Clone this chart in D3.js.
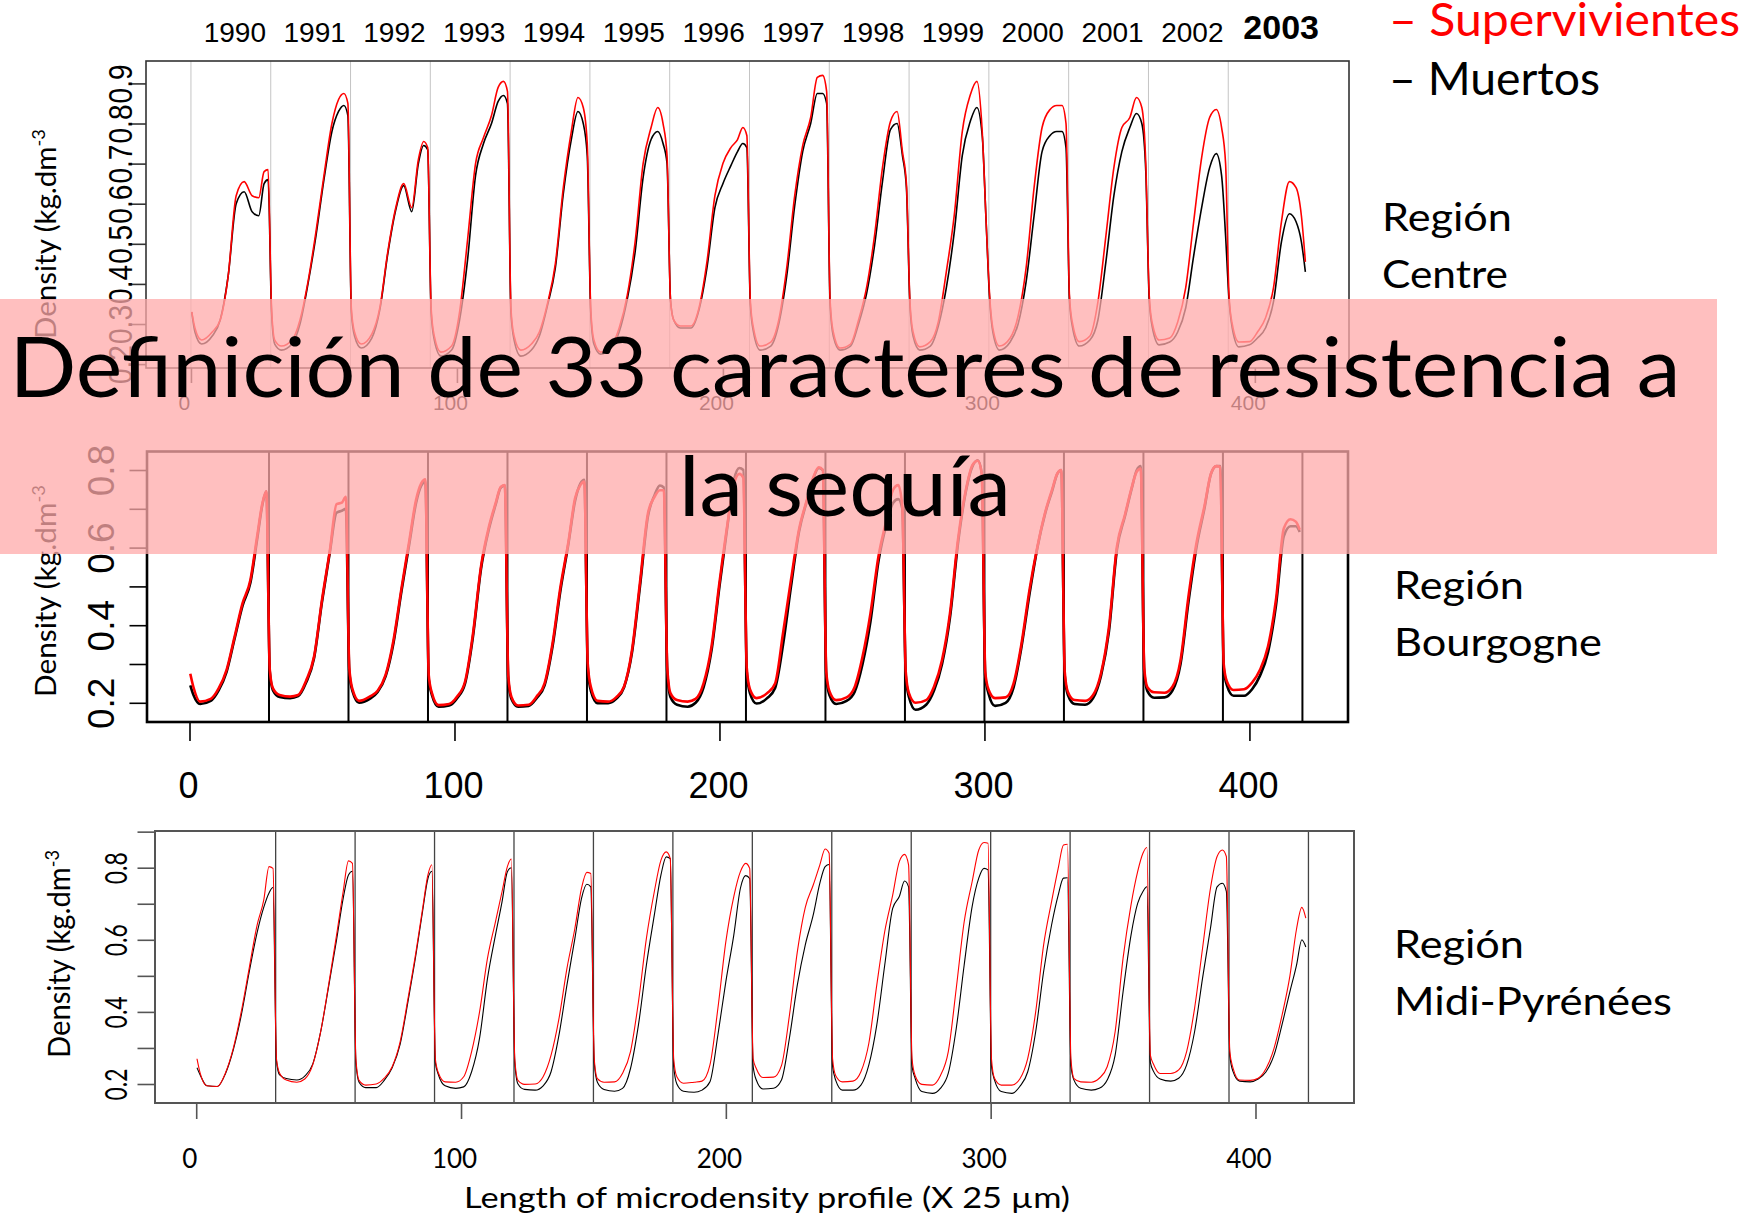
<!DOCTYPE html>
<html>
<head>
<meta charset="utf-8">
<script src="https://cdn.jsdelivr.net/npm/d3@7"></script>
<style>
  body { margin: 0; background: #fff; }
  svg { display: block; }
</style>
</head>
<body>
<svg id="chart" width="1748" height="1218"></svg>
<script>
// ---------------- data ----------------
var years = [1990, 1991, 1992, 1993, 1994, 1995, 1996, 1997, 1998, 1999, 2000, 2001, 2002, 2003];
// sample positions inside each 30-point ring profile
var offsets = [0.3, 1.5, 4, 8, 11, 14, 17, 20, 23, 25.5, 27.5, 29];

var centreSurv = [
  [0.33, 0.29, 0.26, 0.28, 0.31, 0.42, 0.62, 0.655, 0.62, 0.615, 0.68, 0.685],
  [0.34, 0.26, 0.245, 0.26, 0.31, 0.405, 0.53, 0.67, 0.80, 0.86, 0.875, 0.85],
  [0.34, 0.28, 0.25, 0.275, 0.34, 0.48, 0.59, 0.65, 0.59, 0.71, 0.755, 0.74],
  [0.34, 0.27, 0.23, 0.245, 0.33, 0.51, 0.70, 0.765, 0.82, 0.89, 0.905, 0.88],
  [0.34, 0.27, 0.235, 0.25, 0.28, 0.35, 0.45, 0.64, 0.78, 0.865, 0.84, 0.75],
  [0.34, 0.26, 0.23, 0.245, 0.29, 0.37, 0.505, 0.70, 0.79, 0.84, 0.80, 0.72],
  [0.36, 0.31, 0.295, 0.295, 0.34, 0.455, 0.62, 0.70, 0.74, 0.76, 0.79, 0.77],
  [0.36, 0.29, 0.245, 0.255, 0.31, 0.44, 0.62, 0.745, 0.815, 0.915, 0.92, 0.88],
  [0.36, 0.28, 0.24, 0.25, 0.31, 0.39, 0.52, 0.69, 0.805, 0.83, 0.73, 0.65],
  [0.36, 0.28, 0.243, 0.256, 0.306, 0.43, 0.572, 0.78, 0.871, 0.905, 0.78, 0.55],
  [0.37, 0.29, 0.245, 0.265, 0.32, 0.44, 0.64, 0.79, 0.835, 0.845, 0.845, 0.80],
  [0.37, 0.30, 0.256, 0.27, 0.355, 0.52, 0.69, 0.79, 0.815, 0.865, 0.84, 0.70],
  [0.37, 0.30, 0.26, 0.265, 0.305, 0.39, 0.555, 0.715, 0.815, 0.835, 0.79, 0.70],
  [0.37, 0.30, 0.255, 0.256, 0.28, 0.315, 0.39, 0.555, 0.655, 0.64, 0.57, 0.455]
];
var centreDead = [
  [0.33, 0.28, 0.25, 0.27, 0.31, 0.42, 0.60, 0.63, 0.58, 0.57, 0.65, 0.66],
  [0.33, 0.25, 0.235, 0.25, 0.30, 0.40, 0.52, 0.66, 0.78, 0.83, 0.845, 0.82],
  [0.33, 0.27, 0.24, 0.265, 0.335, 0.475, 0.585, 0.645, 0.58, 0.70, 0.745, 0.735],
  [0.33, 0.26, 0.22, 0.235, 0.31, 0.46, 0.67, 0.75, 0.80, 0.855, 0.87, 0.85],
  [0.33, 0.26, 0.22, 0.235, 0.27, 0.345, 0.44, 0.625, 0.76, 0.83, 0.80, 0.72],
  [0.33, 0.25, 0.225, 0.24, 0.28, 0.36, 0.48, 0.665, 0.76, 0.78, 0.75, 0.70],
  [0.36, 0.31, 0.29, 0.29, 0.335, 0.44, 0.59, 0.65, 0.695, 0.73, 0.75, 0.74],
  [0.35, 0.28, 0.235, 0.245, 0.30, 0.42, 0.595, 0.73, 0.80, 0.875, 0.875, 0.85],
  [0.35, 0.27, 0.235, 0.245, 0.30, 0.375, 0.495, 0.655, 0.785, 0.80, 0.72, 0.64],
  [0.35, 0.27, 0.235, 0.245, 0.295, 0.39, 0.53, 0.72, 0.805, 0.84, 0.77, 0.55],
  [0.36, 0.28, 0.235, 0.255, 0.30, 0.405, 0.57, 0.73, 0.77, 0.78, 0.78, 0.74],
  [0.36, 0.29, 0.245, 0.26, 0.31, 0.455, 0.62, 0.73, 0.79, 0.825, 0.80, 0.68],
  [0.36, 0.29, 0.248, 0.255, 0.28, 0.34, 0.47, 0.59, 0.69, 0.725, 0.67, 0.52],
  [0.36, 0.29, 0.243, 0.248, 0.265, 0.29, 0.355, 0.505, 0.575, 0.555, 0.505, 0.43]
];

var bourgSurv = [
  [0.275, 0.24, 0.203, 0.21, 0.237, 0.285, 0.37, 0.456, 0.517, 0.628, 0.714, 0.745],
  [0.285, 0.237, 0.22, 0.216, 0.22, 0.257, 0.319, 0.465, 0.594, 0.712, 0.716, 0.731],
  [0.29, 0.235, 0.205, 0.216, 0.231, 0.272, 0.362, 0.495, 0.62, 0.723, 0.766, 0.776],
  [0.27, 0.225, 0.194, 0.197, 0.216, 0.255, 0.379, 0.551, 0.654, 0.714, 0.757, 0.761],
  [0.27, 0.215, 0.193, 0.195, 0.216, 0.25, 0.353, 0.499, 0.615, 0.727, 0.761, 0.77],
  [0.30, 0.24, 0.205, 0.203, 0.214, 0.242, 0.336, 0.51, 0.688, 0.731, 0.748, 0.748],
  [0.29, 0.225, 0.207, 0.203, 0.21, 0.25, 0.345, 0.51, 0.66, 0.765, 0.79, 0.78],
  [0.29, 0.235, 0.212, 0.225, 0.25, 0.38, 0.517, 0.646, 0.723, 0.783, 0.807, 0.80],
  [0.28, 0.23, 0.207, 0.214, 0.24, 0.319, 0.431, 0.577, 0.671, 0.749, 0.761, 0.706],
  [0.28, 0.225, 0.2, 0.207, 0.242, 0.31, 0.431, 0.62, 0.749, 0.813, 0.824, 0.79],
  [0.28, 0.235, 0.212, 0.214, 0.25, 0.353, 0.491, 0.603, 0.693, 0.749, 0.791, 0.80],
  [0.28, 0.228, 0.207, 0.205, 0.22, 0.276, 0.396, 0.603, 0.684, 0.753, 0.796, 0.804],
  [0.29, 0.24, 0.227, 0.226, 0.242, 0.31, 0.474, 0.611, 0.706, 0.791, 0.81, 0.808],
  [0.30, 0.255, 0.233, 0.235, 0.252, 0.285, 0.345, 0.465, 0.65, 0.673, 0.667, 0.646]
];
var bourgDead = [
  [0.245, 0.22, 0.197, 0.205, 0.232, 0.28, 0.365, 0.45, 0.51, 0.62, 0.71, 0.745],
  [0.28, 0.232, 0.215, 0.212, 0.217, 0.252, 0.315, 0.46, 0.59, 0.69, 0.695, 0.70],
  [0.28, 0.23, 0.2, 0.21, 0.228, 0.268, 0.355, 0.488, 0.612, 0.715, 0.76, 0.77],
  [0.26, 0.22, 0.19, 0.193, 0.212, 0.25, 0.372, 0.545, 0.648, 0.71, 0.755, 0.76],
  [0.26, 0.21, 0.19, 0.192, 0.212, 0.245, 0.345, 0.49, 0.61, 0.72, 0.765, 0.775],
  [0.29, 0.23, 0.199, 0.199, 0.21, 0.24, 0.33, 0.50, 0.68, 0.735, 0.76, 0.755],
  [0.28, 0.215, 0.195, 0.19, 0.2, 0.24, 0.335, 0.5, 0.655, 0.775, 0.805, 0.80],
  [0.28, 0.225, 0.198, 0.212, 0.238, 0.35, 0.5, 0.64, 0.72, 0.78, 0.805, 0.80],
  [0.27, 0.22, 0.197, 0.205, 0.228, 0.3, 0.41, 0.565, 0.66, 0.715, 0.725, 0.70],
  [0.27, 0.215, 0.182, 0.195, 0.232, 0.3, 0.42, 0.61, 0.745, 0.81, 0.825, 0.79],
  [0.27, 0.225, 0.192, 0.2, 0.24, 0.345, 0.48, 0.6, 0.69, 0.745, 0.79, 0.80],
  [0.27, 0.22, 0.197, 0.195, 0.212, 0.27, 0.385, 0.595, 0.68, 0.75, 0.8, 0.81],
  [0.28, 0.23, 0.213, 0.214, 0.232, 0.3, 0.46, 0.6, 0.7, 0.79, 0.81, 0.81],
  [0.29, 0.245, 0.218, 0.218, 0.235, 0.27, 0.33, 0.45, 0.63, 0.655, 0.655, 0.64]
];

var midiSurv = [
  [0.27, 0.23, 0.195, 0.193, 0.23, 0.299, 0.4, 0.521, 0.641, 0.71, 0.803, 0.798],
  [0.27, 0.23, 0.211, 0.205, 0.214, 0.253, 0.345, 0.475, 0.613, 0.734, 0.819, 0.812],
  [0.27, 0.21, 0.197, 0.2, 0.216, 0.248, 0.317, 0.438, 0.567, 0.687, 0.78, 0.808],
  [0.27, 0.23, 0.206, 0.205, 0.22, 0.29, 0.4, 0.549, 0.65, 0.734, 0.803, 0.824],
  [0.27, 0.21, 0.199, 0.2, 0.22, 0.28, 0.382, 0.521, 0.632, 0.743, 0.787, 0.784],
  [0.27, 0.215, 0.205, 0.206, 0.23, 0.29, 0.428, 0.604, 0.734, 0.821, 0.844, 0.826],
  [0.27, 0.22, 0.202, 0.205, 0.208, 0.253, 0.41, 0.595, 0.72, 0.789, 0.812, 0.798],
  [0.27, 0.243, 0.218, 0.219, 0.251, 0.39, 0.567, 0.69, 0.752, 0.808, 0.852, 0.84],
  [0.27, 0.223, 0.206, 0.208, 0.234, 0.313, 0.475, 0.623, 0.724, 0.817, 0.837, 0.808],
  [0.27, 0.223, 0.199, 0.197, 0.223, 0.29, 0.465, 0.65, 0.761, 0.849, 0.87, 0.868],
  [0.27, 0.215, 0.197, 0.197, 0.214, 0.271, 0.4, 0.586, 0.706, 0.798, 0.863, 0.865],
  [0.27, 0.215, 0.206, 0.205, 0.216, 0.248, 0.345, 0.549, 0.697, 0.789, 0.84, 0.856],
  [0.28, 0.255, 0.229, 0.229, 0.239, 0.29, 0.41, 0.576, 0.743, 0.831, 0.849, 0.831],
  [0.29, 0.245, 0.211, 0.21, 0.216, 0.243, 0.299, 0.39, 0.50, 0.63, 0.69, 0.66]
];
var midiDead = [
  [0.245, 0.225, 0.195, 0.193, 0.228, 0.295, 0.39, 0.51, 0.62, 0.69, 0.73, 0.745],
  [0.265, 0.225, 0.215, 0.211, 0.222, 0.255, 0.345, 0.47, 0.60, 0.715, 0.78, 0.79],
  [0.26, 0.205, 0.19, 0.19, 0.21, 0.245, 0.31, 0.43, 0.56, 0.68, 0.77, 0.79],
  [0.26, 0.225, 0.195, 0.188, 0.192, 0.234, 0.327, 0.493, 0.613, 0.706, 0.789, 0.80],
  [0.26, 0.2, 0.185, 0.183, 0.195, 0.234, 0.336, 0.475, 0.604, 0.715, 0.754, 0.747],
  [0.26, 0.205, 0.185, 0.18, 0.188, 0.243, 0.364, 0.53, 0.669, 0.78, 0.83, 0.825],
  [0.25, 0.2, 0.18, 0.177, 0.183, 0.206, 0.336, 0.484, 0.613, 0.743, 0.778, 0.77],
  [0.25, 0.211, 0.186, 0.188, 0.211, 0.327, 0.475, 0.586, 0.669, 0.757, 0.803, 0.809],
  [0.25, 0.21, 0.183, 0.183, 0.197, 0.253, 0.364, 0.53, 0.687, 0.72, 0.763, 0.747],
  [0.25, 0.215, 0.179, 0.174, 0.188, 0.23, 0.354, 0.53, 0.692, 0.771, 0.798, 0.794],
  [0.25, 0.21, 0.179, 0.174, 0.193, 0.234, 0.345, 0.512, 0.641, 0.724, 0.771, 0.772],
  [0.25, 0.21, 0.188, 0.183, 0.188, 0.211, 0.28, 0.456, 0.613, 0.701, 0.734, 0.747],
  [0.26, 0.235, 0.214, 0.208, 0.216, 0.253, 0.345, 0.493, 0.632, 0.747, 0.757, 0.734],
  [0.28, 0.235, 0.208, 0.206, 0.214, 0.234, 0.28, 0.364, 0.456, 0.53, 0.6, 0.58]
];

var xTicks = [0, 100, 200, 300, 400];
var yTicksCentre = [0.2, 0.3, 0.4, 0.5, 0.6, 0.7, 0.8, 0.9];
var yTicksBourg = [0.2, 0.3, 0.4, 0.5, 0.6, 0.7, 0.8];
var yTicksMidi = [0.2, 0.3, 0.4, 0.5, 0.6, 0.7, 0.8, 0.9];
var yLabelsEven = [0.2, 0.4, 0.6, 0.8];
var regionNames = ["Centre", "Bourgogne", "Midi-Pyrénées"];
var legendNames = ["Supervivientes", "Muertos"];
var titleLines = ["Definición de 33 caracteres de resistencia a", "la sequía"];
var yTitle = "Density (kg.dm";
var xTitle = "Length of microdensity profile (X 25 µm)";

// ---------------- drawing ----------------
var R_FONT = "'Liberation Sans', Arial, sans-serif";
var C_FONT = "Lato, 'Open Sans', sans-serif";
var svg = d3.select("#chart");

var panels = [
  { surv: centreSurv, dead: centreDead, box: [146, 61, 1349, 368],
    xdom: [-16.9, 435.4], ydom: [0.1903, 0.9559],
    yearLines: d3.range(0, 391, 30), lineColor: "#c4c4c4", lineW: 1,
    boxColor: "#333", boxW: 1.6, curveW: 1.6,
    yticks: yTicksCentre, ylabels: yTicksCentre, yfont: R_FONT, ysize: 33, ylen: 39, yoff: 14, tick: 17,
    xfont: R_FONT, xsize: 21, xoff: 42, xdx: -7, xtick: 15,
    ytitleX: 56, ytitleY: 234, ytitleSize: 28, ytitleLen: 210 },
  { surv: bourgSurv, dead: bourgDead, box: [147, 451.5, 1348, 722],
    xdom: [-16.04, 437.2], ydom: [0.1505, 0.8477],
    yearLines: d3.range(30, 421, 30), lineColor: "#000", lineW: 2,
    boxColor: "#000", boxW: 2.6, curveW: 2.6,
    yticks: yTicksBourg, ylabels: yLabelsEven, yfont: R_FONT, ysize: 37, ylen: null, yoff: 33, tick: 17.5,
    xfont: R_FONT, xsize: 36, xoff: 76, xdx: -1.5, xtick: 19,
    ytitleX: 56, ytitleY: 591, ytitleSize: 28, ytitleLen: 212 },
  { surv: midiSurv, dead: midiDead, box: [155, 831, 1354, 1103],
    xdom: [-15.56, 437.2], ydom: [0.1473, 0.9018],
    yearLines: d3.range(30, 421, 30), lineColor: "#444", lineW: 1.3,
    boxColor: "#555", boxW: 2, curveW: 1.1,
    yticks: yTicksMidi, ylabels: yLabelsEven, yfont: C_FONT, ysize: 30, ylen: 32, yoff: 28, tick: 17.5,
    xfont: C_FONT, xsize: 26, xoff: 65, xdx: -7, xtick: 16,
    ytitleX: 70, ytitleY: 954, ytitleSize: 30, ytitleLen: 208 }
];

function toPoints(arr) {
  var pts = [];
  arr.forEach(function(vals, k) {
    vals.forEach(function(v, i) { pts.push({x: 30 * k + offsets[i], v: v}); });
  });
  return pts;
}

var scales = [];
panels.forEach(function(p) {
  var x = d3.scaleLinear().domain(p.xdom).range([p.box[0], p.box[2]]);
  var y = d3.scaleLinear().domain(p.ydom).range([p.box[3], p.box[1]]);
  scales.push(x);
  var g = svg.append("g");

  // ring boundaries
  g.selectAll("line.yr").data(p.yearLines).join("line")
    .attr("class", "yr")
    .attr("x1", function(d) { return x(d); }).attr("x2", function(d) { return x(d); })
    .attr("y1", p.box[1]).attr("y2", p.box[3])
    .attr("stroke", p.lineColor).attr("stroke-width", p.lineW);

  var line = d3.line().x(function(d) { return x(d.x); }).y(function(d) { return y(d.v); })
    .curve(d3.curveMonotoneX);
  g.append("path").datum(toPoints(p.dead)).attr("d", line)
    .attr("fill", "none").attr("stroke", "#000").attr("stroke-width", p.curveW);
  g.append("path").datum(toPoints(p.surv)).attr("d", line)
    .attr("fill", "none").attr("stroke", "#f00").attr("stroke-width", p.curveW);

  g.append("rect")
    .attr("x", p.box[0]).attr("y", p.box[1])
    .attr("width", p.box[2] - p.box[0]).attr("height", p.box[3] - p.box[1])
    .attr("fill", "none").attr("stroke", p.boxColor).attr("stroke-width", p.boxW);

  // y axis
  var yg = g.append("g").attr("transform", "translate(" + p.box[0] + ",0)")
    .call(d3.axisLeft(y).tickValues(p.yticks).tickSize(p.tick)
      .tickFormat(function(d) { return p.ylabels.indexOf(d) >= 0 ? d3.format(".1f")(d) : ""; }));
  yg.select(".domain").remove();
  yg.selectAll(".tick line").attr("stroke", p.boxColor).attr("stroke-width", 1.6);
  yg.selectAll(".tick text")
    .attr("x", null).attr("dy", null)
    .attr("transform", "translate(" + (-p.yoff) + ",0) rotate(-90)")
    .attr("text-anchor", "middle")
    .attr("fill", "#000")
    .style("font-family", p.yfont).style("font-size", p.ysize + "px")
    .each(function() {
      if (p.ylen) d3.select(this).attr("textLength", p.ylen).attr("lengthAdjust", "spacingAndGlyphs");
    });

  // x axis
  var xg = g.append("g").attr("transform", "translate(0," + p.box[3] + ")")
    .call(d3.axisBottom(x).tickValues(xTicks).tickSize(p.xtick).tickFormat(d3.format("d")));
  xg.select(".domain").remove();
  xg.selectAll(".tick line").attr("stroke", p.boxColor).attr("stroke-width", 1.6);
  xg.selectAll(".tick text")
    .attr("y", p.xoff).attr("dy", null).attr("dx", p.xdx)
    .attr("fill", "#000")
    .style("font-family", p.xfont).style("font-size", p.xsize + "px");

  // y title
  var yt = g.append("text")
    .attr("transform", "translate(" + p.ytitleX + "," + p.ytitleY + ") rotate(-90)")
    .attr("text-anchor", "middle")
    .attr("textLength", p.ytitleLen).attr("lengthAdjust", "spacingAndGlyphs")
    .style("font-family", C_FONT).style("font-size", p.ytitleSize + "px");
  yt.append("tspan").text(yTitle);
  yt.append("tspan").attr("dy", -p.ytitleSize * 0.38).style("font-size", (p.ytitleSize * 0.62) + "px").text("-3");
});

// x title under the last panel
svg.append("text")
  .attr("x", 767).attr("y", 1208).attr("text-anchor", "middle")
  .attr("textLength", 606).attr("lengthAdjust", "spacingAndGlyphs")
  .style("font-family", C_FONT).style("font-size", "29px")
  .text(xTitle);

// year labels over the first panel
var x1 = scales[0];
svg.append("g").selectAll("text").data(years).join("text")
  .attr("x", function(d, k) { return x1(15 + 30 * k) + (k === years.length - 1 ? 13 : 4); })
  .attr("y", function(d, k) { return k === years.length - 1 ? 39 : 42; })
  .attr("text-anchor", "middle")
  .style("font-family", R_FONT)
  .style("font-size", function(d, k) { return k === years.length - 1 ? "34px" : "28px"; })
  .style("font-weight", function(d, k) { return k === years.length - 1 ? "bold" : "normal"; })
  .text(function(d) { return d; });

// region labels
var regionPos = [[1382, 231, 126], [1394, 599, 208], [1394, 958, 278]];
regionNames.forEach(function(name, i) {
  var t = svg.append("g").style("font-family", C_FONT).style("font-size", "38px");
  t.append("text").attr("x", regionPos[i][0]).attr("y", regionPos[i][1])
    .attr("textLength", 130).attr("lengthAdjust", "spacingAndGlyphs").text("Región");
  t.append("text").attr("x", regionPos[i][0]).attr("y", regionPos[i][1] + 57)
    .attr("textLength", regionPos[i][2]).attr("lengthAdjust", "spacingAndGlyphs").text(name);
});

// legend
var legendStyle = [["#f00", 36, 351], ["#000", 95, 211]];
legendNames.forEach(function(name, i) {
  svg.append("text")
    .attr("x", 1389).attr("y", legendStyle[i][1])
    .attr("fill", legendStyle[i][0])
    .attr("textLength", legendStyle[i][2]).attr("lengthAdjust", "spacingAndGlyphs")
    .style("font-family", C_FONT).style("font-size", "46px")
    .text("\u2013 " + name);
});

// translucent title banner
svg.append("rect")
  .attr("x", 0).attr("y", 299).attr("width", 1717).attr("height", 255)
  .attr("fill", "#ffaaaa").attr("fill-opacity", 0.75);

var titleSpec = [[397, 1671], [516, 332]];
titleLines.forEach(function(txt, i) {
  svg.append("text")
    .attr("x", 845).attr("y", titleSpec[i][0]).attr("text-anchor", "middle")
    .attr("textLength", titleSpec[i][1]).attr("lengthAdjust", "spacingAndGlyphs")
    .style("font-family", C_FONT).style("font-size", "84px")
    .text(txt);
});
</script>
</body>
</html>
